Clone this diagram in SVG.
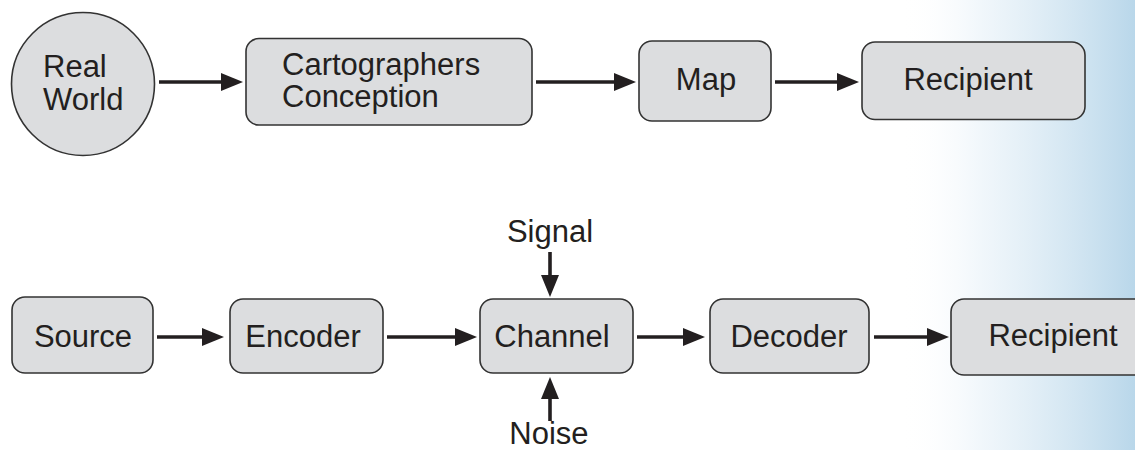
<svg xmlns="http://www.w3.org/2000/svg" width="1135" height="450" viewBox="0 0 1135 450">
<defs>
<linearGradient id="bg" x1="0" y1="0" x2="1" y2="0">
<stop offset="0" stop-color="#ffffff" stop-opacity="0"/>
<stop offset="0.35" stop-color="#eaf3f9" stop-opacity="0.7"/>
<stop offset="1" stop-color="#b9d7ea"/>
</linearGradient>
<marker id="ah" markerUnits="userSpaceOnUse" markerWidth="23" markerHeight="19" refX="0" refY="9" orient="auto">
<path d="M0,0 L22,9 L0,18 Z" fill="#231f20"/>
</marker>
<style>
.box{fill:#dcdddf;stroke:#333333;stroke-width:1.6}
.t{font-family:"Liberation Sans",Arial,Helvetica,sans-serif;font-size:31px;fill:#231f20}
.c{text-anchor:middle}
.ln{stroke:#231f20;stroke-width:3.6;fill:none;marker-end:url(#ah)}
</style>
</defs>
<rect x="0" y="0" width="1135" height="450" fill="#ffffff"/>
<rect x="900" y="0" width="235" height="450" fill="url(#bg)"/>
<g id="connectors">
<line class="ln" x1="159" y1="82" x2="221" y2="82"/>
<line class="ln" x1="536" y1="82" x2="614" y2="82"/>
<line class="ln" x1="775" y1="82" x2="837" y2="82"/>
<line class="ln" x1="157" y1="337" x2="202" y2="337"/>
<line class="ln" x1="387" y1="337" x2="455" y2="337"/>
<line class="ln" x1="637" y1="337" x2="683" y2="337"/>
<line class="ln" x1="874" y1="337" x2="927" y2="337"/>
<line class="ln" x1="550" y1="252" x2="550" y2="275"/>
<line class="ln" x1="550" y1="421" x2="550" y2="399"/>
</g>
<g id="real-world">
<circle class="box" cx="83" cy="84" r="71.5"/>
<text class="t" x="43" y="77">Real</text>
<text class="t" x="43" y="110">World</text>
</g>
<g id="cartographers-conception">
<rect class="box" x="246" y="38.5" width="286" height="86.5" rx="13"/>
<text class="t" x="282" y="75">Cartographers</text>
<text class="t" x="282" y="107">Conception</text>
</g>
<g id="map">
<rect class="box" x="639" y="41" width="132" height="80" rx="13"/>
<text class="t c" x="706" y="90">Map</text>
</g>
<g id="recipient-top">
<rect class="box" x="862" y="42" width="223" height="77.5" rx="13"/>
<text class="t c" x="968" y="90">Recipient</text>
</g>
<g id="source">
<rect class="box" x="12" y="297" width="141" height="76" rx="13"/>
<text class="t c" x="83" y="347">Source</text>
</g>
<g id="encoder">
<rect class="box" x="230" y="299" width="153" height="74" rx="13"/>
<text class="t c" x="303" y="347">Encoder</text>
</g>
<g id="channel">
<rect class="box" x="480" y="299" width="153" height="74" rx="13"/>
<text class="t c" x="552" y="347">Channel</text>
</g>
<g id="decoder">
<rect class="box" x="710" y="299" width="159" height="74" rx="13"/>
<text class="t c" x="789" y="347">Decoder</text>
</g>
<g id="recipient-bottom">
<rect class="box" x="951" y="299" width="210" height="76" rx="13"/>
<text class="t c" x="1053" y="346">Recipient</text>
</g>
<g id="signal">
<text class="t c" x="550" y="242">Signal</text>
</g>
<g id="noise">
<text class="t c" x="549" y="444">Noise</text>
</g>
</svg>
